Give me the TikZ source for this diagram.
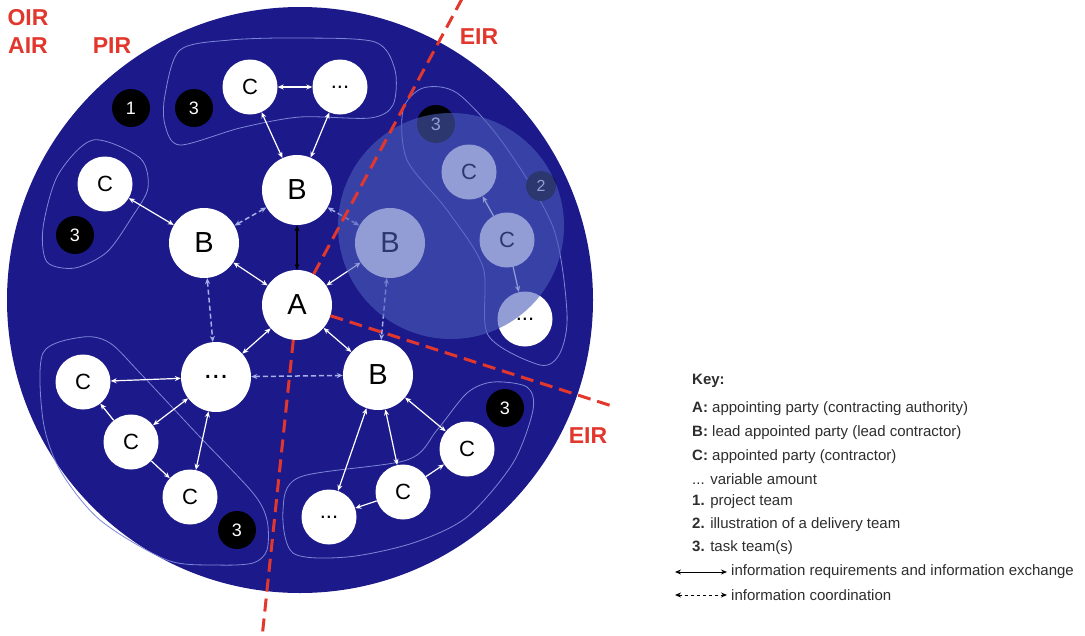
\documentclass[tikz,border=0pt]{standalone}
\usepackage{fontspec}
\setmainfont{Liberation Sans}
\usetikzlibrary{arrows.meta}

\definecolor{navy}{RGB}{28,26,138}
\definecolor{veil}{RGB}{76,93,186}
\definecolor{teamline}{RGB}{125,135,215}
\definecolor{linkblue}{RGB}{165,175,232}
\definecolor{eirred}{RGB}{225,55,45}
\definecolor{keygray}{RGB}{45,45,45}

\begin{document}
\begin{tikzpicture}[x=1pt, y=-1pt, >={Stealth[length=6pt,width=5pt]},
  party/.style={circle, fill=white, minimum size=70pt, inner sep=0pt, font=\fontsize{29}{29}\selectfont},
  member/.style={circle, fill=white, minimum size=55pt, inner sep=0pt, font=\fontsize{22}{22}\selectfont},
  badge/.style={circle, fill=black, text=white, minimum size=38pt, inner sep=0pt, font=\fontsize{18}{18}\selectfont},
  exchange/.style={<->, white, line width=1.2pt},
  coordarrow/.style={<->, linkblue, dash pattern=on 5pt off 3pt, line width=1.5pt},
  team/.style={draw=teamline, line width=0.8pt},
  eir/.style={draw=eirred, line width=3pt, dash pattern=on 13pt off 7pt},
  reqlabel/.style={text=eirred, font=\fontsize{23}{23}\selectfont\bfseries},
  keytext/.style={anchor=west, text=keygray, inner sep=0pt, font=\fontsize{15}{18}\selectfont}]

  % Frame
  \useasboundingbox (0,0) rectangle (1085,635);

  % Project team (1)
  \fill[navy] (300,300) circle (293);

  % Task team outlines (3)
  \draw[team] plot[smooth cycle] coordinates {(165,95) (180,50) (230,40) (300,38) (375,42) (395,70) (393,105) (370,118) (300,117) (240,128) (180,145) (165,125)};
  \draw[team] plot[smooth cycle] coordinates {(93,140) (140,158) (148,188) (132,217) (107,252) (75,268) (47,262) (43,228) (58,175)};
  \draw[team] plot[smooth cycle] coordinates {(43,353) (83,337) (110,343) (140,373) (200,437) (253,493) (267,520) (267,550) (253,563) (217,565) (167,560) (100,520) (60,470) (43,420)};
  \draw[team] plot[smooth cycle] coordinates {(283,510) (300,477) (407,460) (437,430) (467,393) (493,382) (527,387) (533,410) (513,463) (467,517) (413,543) (347,557) (293,553)};
  \draw[team] plot[smooth cycle] coordinates {(423,88) (457,93) (503,143) (553,227) (567,313) (560,353) (540,365) (488,335) (483,267) (447,210) (407,160) (403,110)};

  % Parties
  \node[party] (A) at (297,305) {A};
  \node[party] (Bt) at (297,190) {B};
  \node[party] (Bl) at (204,243) {B};
  \node[party] (Bd) at (390,243) {B};
  \node[party] (Br) at (378,375) {B};
  \node[party] (Dc) at (216,377) {...};

  \node[member] (Ct) at (250,87) {C};
  \node[member] (Dt) at (340,87) {...};
  \node[member] (Cl) at (105,184) {C};
  \node[member] (Ca) at (83,382) {C};
  \node[member] (Cb) at (131,442) {C};
  \node[member] (Cc) at (190,497) {C};
  \node[member] (Cd) at (467,449) {C};
  \node[member] (Ce) at (403,492) {C};
  \node[member] (De) at (329,517) {...};
  \node[member] (Cf) at (469,172) {C};
  \node[member] (Cg) at (507,240) {C};
  \node[member] (Dg) at (525,319) {...};

  % Team numbers
  \node[badge] (n1) at (131,108) {1};
  \node[badge] (n3t) at (194,108) {3};
  \node[badge] (n3l) at (75,235) {3};
  \node[badge] (n3b) at (237,530) {3};
  \node[badge] (n3r) at (505,408) {3};
  \node[badge] (n3d) at (436,124) {3};
  \node[badge, minimum size=30pt, font=\fontsize{16}{16}\selectfont] (n2) at (541,186) {2};

  % Information exchange
  \draw[exchange] (Ct) -- (Dt);
  \draw[exchange] (Ct) -- (Bt);
  \draw[exchange] (Dt) -- (Bt);
  \draw[exchange] (Cl) -- (Bl);
  \draw[exchange] (Bl) -- (A);
  \draw[exchange] (Bd) -- (A);
  \draw[exchange] (Dc) -- (A);
  \draw[exchange] (Br) -- (A);
  \draw[exchange] (Dc) -- (Ca);
  \draw[exchange] (Dc) -- (Cb);
  \draw[exchange] (Dc) -- (Cc);
  \draw[exchange, ->] (Cb) -- (Ca);
  \draw[exchange, ->] (Cb) -- (Cc);
  \draw[exchange] (Br) -- (De);
  \draw[exchange] (Br) -- (Ce);
  \draw[exchange] (Br) -- (Cd);
  \draw[exchange, ->] (Ce) -- (De);
  \draw[exchange, ->] (Ce) -- (Cd);
  \draw[exchange, ->] (Cg) -- (Cf);
  \draw[exchange, ->] (Cg) -- (Dg);
  \draw[<->, black, line width=1.5pt] (Bt) -- (A);

  % Information coordination
  \draw[coordarrow] (Bt) -- (Bl);
  \draw[coordarrow] (Bt) -- (Bd);
  \draw[coordarrow] (Bl) -- (Dc);
  \draw[coordarrow] (Bd) -- (Br);
  \draw[coordarrow] (Dc) -- (Br);

  % Delivery team (2)
  \fill[veil, opacity=0.6] (451,226) circle (113);

  % Information requirements
  \coordinate (eirN) at (463,-3);
  \coordinate (eirS) at (262,638);
  \coordinate (eirE) at (612,406);
  \draw[eir] (A) -- (eirN);
  \draw[eir] (A) -- (eirS);
  \draw[eir] (A) -- (eirE);

  \node[reqlabel] (oir) at (28,18) {OIR};
  \node[reqlabel] (air) at (28,46) {AIR};
  \node[reqlabel] (pir) at (112,46) {PIR};
  \node[reqlabel] (eir1) at (479,37) {EIR};
  \node[reqlabel] (eir2) at (588,436) {EIR};

  % Key
  \node[keytext] (k0) at (692,381) {\textbf{Key:}};
  \node[keytext] (k1) at (692,409) {\textbf{A:} appointing party (contracting authority)};
  \node[keytext] (k2) at (692,433) {\textbf{B:} lead appointed party (lead contractor)};
  \node[keytext] (k3) at (692,457) {\textbf{C:} appointed party (contractor)};
  \node[keytext] (k4) at (692,479) {... variable amount};
  \node[keytext] (k5) at (692,502) {\textbf{1.} project team};
  \node[keytext] (k6) at (692,525) {\textbf{2.} illustration of a delivery team};
  \node[keytext] (k7) at (692,548) {\textbf{3.} task team(s)};
  \node[keytext] (k8) at (731,572) {information requirements and information exchange};
  \node[keytext] (k9) at (731,595) {information coordination};
  \coordinate (s8) at (675,572);
  \coordinate (e8) at (727,572);
  \coordinate (s9) at (675,595);
  \coordinate (e9) at (727,595);
  \draw[<->, line width=1pt] (s8) -- (e8);
  \draw[<->, dashed, line width=1pt] (s9) -- (e9);

\end{tikzpicture}
\end{document}
